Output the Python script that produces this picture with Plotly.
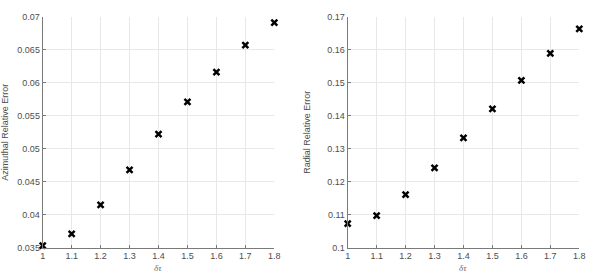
import plotly.graph_objects as go

dtau = [1.0, 1.1, 1.2, 1.3, 1.4, 1.5, 1.6, 1.7, 1.8]
azimuthal_err = [0.0353, 0.0371, 0.0415, 0.0468, 0.0522, 0.0571, 0.0616, 0.0657, 0.0691]
radial_err = [0.1073, 0.1097, 0.1161, 0.1242, 0.1333, 0.1421, 0.1507, 0.1589, 0.1663]

x_ticks = [1, 1.1, 1.2, 1.3, 1.4, 1.5, 1.6, 1.7, 1.8]
x_ticktext = ["1", "1.1", "1.2", "1.3", "1.4", "1.5", "1.6", "1.7", "1.8"]
az_ticks = [0.035, 0.04, 0.045, 0.05, 0.055, 0.06, 0.065, 0.07]
az_ticktext = ["0.035", "0.04", "0.045", "0.05", "0.055", "0.06", "0.065", "0.07"]
rad_ticks = [0.1, 0.11, 0.12, 0.13, 0.14, 0.15, 0.16, 0.17]
rad_ticktext = ["0.1", "0.11", "0.12", "0.13", "0.14", "0.15", "0.16", "0.17"]
x_label = "δτ"

marker = dict(symbol="x-thin", size=6, color="black", line=dict(color="black", width=2.5))

fig = go.Figure()
fig.add_trace(go.Scatter(x=dtau, y=azimuthal_err, mode="markers", marker=marker,
                         cliponaxis=False, xaxis="x", yaxis="y", showlegend=False))
fig.add_trace(go.Scatter(x=dtau, y=radial_err, mode="markers", marker=marker,
                         cliponaxis=False, xaxis="x2", yaxis="y2", showlegend=False))

sans = "Liberation Sans, Arial, sans-serif"
font_tick = dict(family=sans, size=9, color="#4d4d4d")
axis_common = dict(
    showgrid=True, gridcolor="#e8e8e8", gridwidth=1,
    showline=True, linecolor="#7a7a7a", linewidth=1,
    ticks="inside", ticklen=3, tickcolor="#7a7a7a",
    tickfont=font_tick, zeroline=False, mirror=False, automargin=False,
)
xtitle_font = dict(family="Liberation Serif, serif", size=9, color="#666666")
ytitle_font = dict(family=sans, size=9, color="#4d4d4d")

fig.update_layout(
    width=598, height=278,
    margin=dict(l=0, r=0, t=0, b=0),
    paper_bgcolor="white", plot_bgcolor="white",
    xaxis=dict(domain=[0.0714, 0.4587], range=[1, 1.8], tickvals=x_ticks, ticktext=x_ticktext,
               anchor="y", **axis_common),
    yaxis=dict(domain=[0.109, 0.94], range=[0.035, 0.07], tickvals=az_ticks, ticktext=az_ticktext,
               anchor="x",
               title=dict(text="Azimuthal Relative Error", font=ytitle_font),
               **axis_common),
    xaxis2=dict(domain=[0.5814, 0.9687], range=[1, 1.8], tickvals=x_ticks, ticktext=x_ticktext,
                anchor="y2", **axis_common),
    yaxis2=dict(domain=[0.109, 0.94], range=[0.1, 0.17], tickvals=rad_ticks, ticktext=rad_ticktext,
                anchor="x2",
                title=dict(text="Radial Relative Error", font=ytitle_font),
                **axis_common),
)
for xa, ya in (("x", "y"), ("x2", "y2")):
    fig.add_annotation(text="<i>" + x_label + "</i>", xref=xa + " domain", yref=ya + " domain",
                       x=0.5, y=0, yshift=-20, xanchor="center", yanchor="middle",
                       showarrow=False, font=xtitle_font)

fig.write_html("out.html", config={"displayModeBar": False},
               post_script="document.body.style.margin='0px';document.body.style.padding='0px';")
